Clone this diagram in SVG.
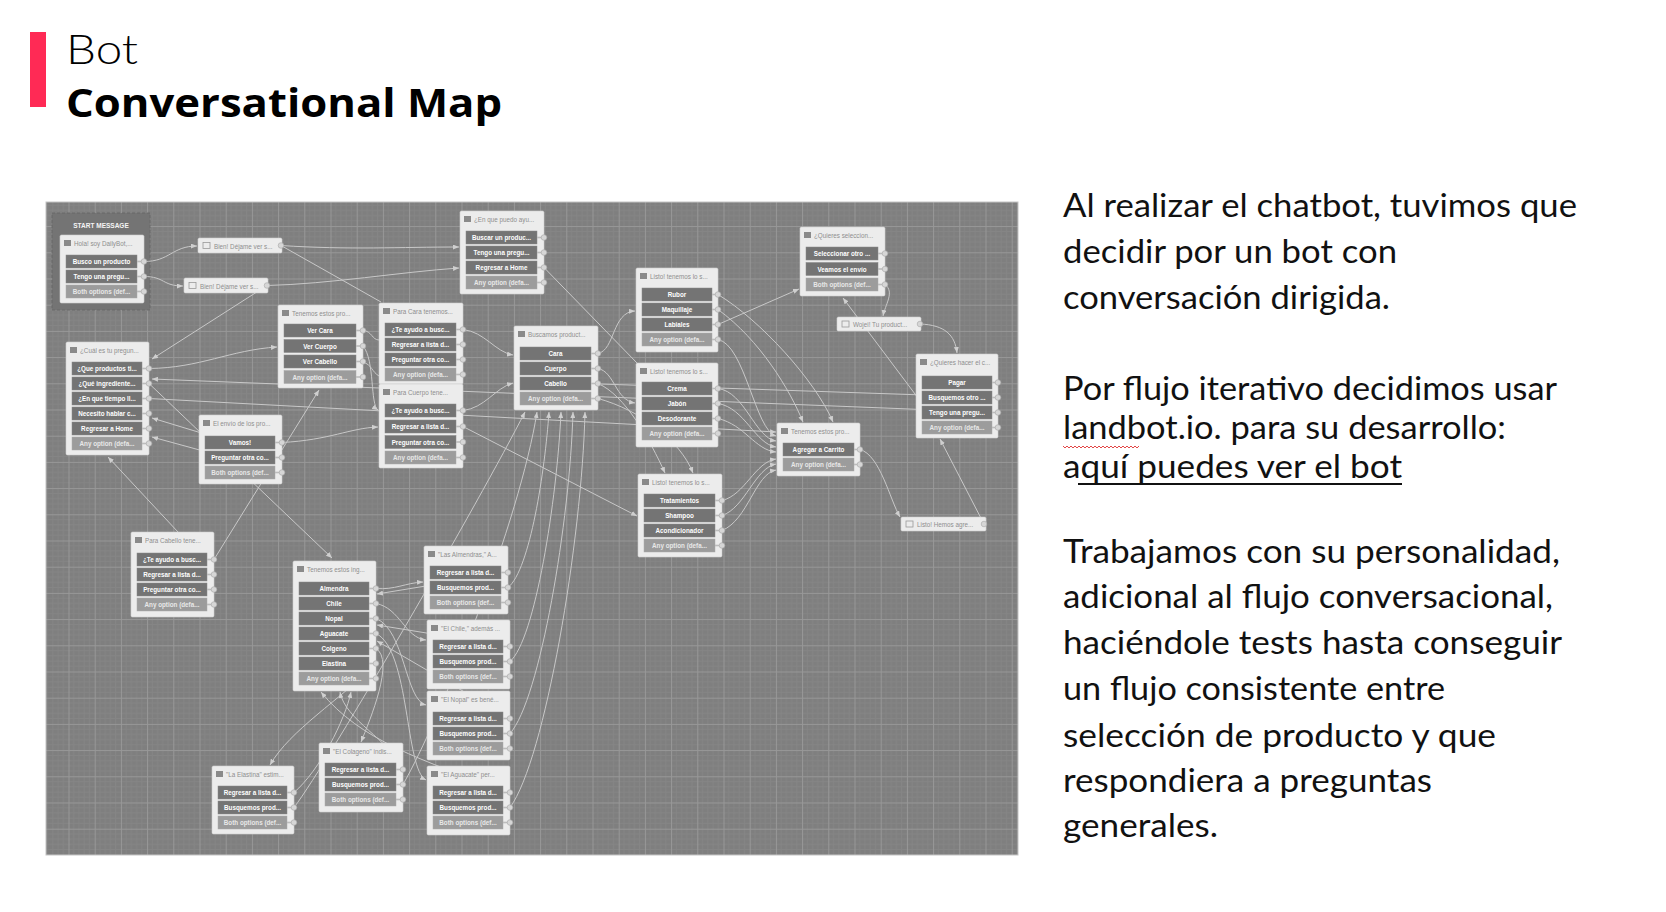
<svg xmlns="http://www.w3.org/2000/svg" width="1666" height="912" viewBox="0 0 1666 912">
<style>
.card{fill:#ececec;stroke:#d2d2d2;stroke-width:.6}
.btn{fill:#747474;stroke:#888;stroke-width:.5}
.btnl{fill:#9c9c9c;stroke:#aaa;stroke-width:.5}
.bt{font-family:"Liberation Sans",Arial,sans-serif;font-weight:bold;font-size:6.3px;fill:#fff;text-anchor:middle}
.btl{fill:#e8e8e8}
.hd{font-family:"Liberation Sans",Arial,sans-serif;font-size:6.3px;fill:#8e8e8e}
.ico{fill:#8a8a8a}
.icoo{fill:none;stroke:#9a9a9a;stroke-width:.8}
.port{fill:#d6d6d6;stroke:#a6a6a6;stroke-width:.6}
.pl{stroke:#bdbdbd;stroke-width:1.6}
.cn{fill:none;stroke:#c8c8c8;stroke-width:1}
.cna{fill:none;stroke:#c8c8c8;stroke-width:1;marker-end:url(#ah)}
.body{font-family:Lato,"Open Sans",sans-serif;font-size:32px;fill:#111}
</style>
<defs>
<marker id="ah" markerWidth="6" markerHeight="5" refX="6" refY="2.5" orient="auto" markerUnits="userSpaceOnUse"><path d="M0,0L6,2.5L0,5z" fill="#cfcfcf"/></marker>
<pattern id="grid" patternUnits="userSpaceOnUse" x="68.5" y="226.1" width="26.2" height="26.2">
<rect width="26.2" height="26.2" fill="#7f7f7f"/>
<path d="M5.24 0V26.2M10.48 0V26.2M15.72 0V26.2M20.96 0V26.2M0 5.24H26.2M0 10.48H26.2M0 15.72H26.2M0 20.96H26.2" stroke="#858585" stroke-width="1"/>
<path d="M0.5 0V26.2M0 0.5H26.2" stroke="#989898" stroke-width="1"/>
</pattern>
</defs>
<rect width="1666" height="912" fill="#fff"/>

<g id="title">
<rect x="30" y="32" width="16" height="75" fill="#ff2a55"/>
<text x="66" y="64" font-family="Lato,'Open Sans',sans-serif" font-weight="300" font-size="42" fill="#000" textLength="72" lengthAdjust="spacingAndGlyphs">Bot</text>
<text x="66" y="117" font-family="'Open Sans',Lato,sans-serif" font-weight="700" font-size="40" fill="#000" textLength="436" lengthAdjust="spacingAndGlyphs">Conversational Map</text>
</g>

<g id="description">
<text class="body" x="1063" y="217" textLength="514" lengthAdjust="spacingAndGlyphs">Al realizar el chatbot, tuvimos que</text>
<text class="body" x="1063" y="263" textLength="334" lengthAdjust="spacingAndGlyphs">decidir por un bot con</text>
<text class="body" x="1063" y="309" textLength="327" lengthAdjust="spacingAndGlyphs">conversación dirigida.</text>
<text class="body" x="1063" y="400" textLength="494" lengthAdjust="spacingAndGlyphs">Por flujo iterativo decidimos usar</text>
<text class="body" x="1063" y="439" textLength="443" lengthAdjust="spacingAndGlyphs">landbot.io. para su desarrollo:</text>
<polyline points="1063,446 1065,448 1067,446 1069,448 1071,446 1073,448 1075,446 1077,448 1079,446 1081,448 1083,446 1085,448 1087,446 1089,448 1091,446 1093,448 1095,446 1097,448 1099,446 1101,448 1103,446 1105,448 1107,446 1109,448 1111,446 1113,448 1115,446 1117,448 1119,446 1121,448 1123,446 1125,448 1127,446 1129,448 1131,446 1133,448 1135,446 1137,448 1139,446" fill="none" stroke="#e03030" stroke-width="0.9"/>
<text class="body" x="1063" y="478" textLength="339" lengthAdjust="spacingAndGlyphs">aquí puedes ver el bot</text>
<line x1="1078" y1="484" x2="1402" y2="484" stroke="#111" stroke-width="2"/>
<text class="body" x="1063" y="563" textLength="497" lengthAdjust="spacingAndGlyphs">Trabajamos con su personalidad,</text>
<text class="body" x="1063" y="608" textLength="490" lengthAdjust="spacingAndGlyphs">adicional al flujo conversacional,</text>
<text class="body" x="1063" y="654" textLength="499" lengthAdjust="spacingAndGlyphs">haciéndole tests hasta conseguir</text>
<text class="body" x="1063" y="700" textLength="382" lengthAdjust="spacingAndGlyphs">un flujo consistente entre</text>
<text class="body" x="1063" y="747" textLength="433" lengthAdjust="spacingAndGlyphs">selección de producto y que</text>
<text class="body" x="1063" y="792" textLength="369" lengthAdjust="spacingAndGlyphs">respondiera a preguntas</text>
<text class="body" x="1063" y="837" textLength="155" lengthAdjust="spacingAndGlyphs">generales.</text>
</g>

<g id="map-bg">
<rect x="46" y="202" width="972" height="653" fill="url(#grid)" stroke="#c4c4c4" stroke-width="1"/>
<rect x="52" y="213" width="98" height="97" fill="#747474" stroke="#666" stroke-width="0.8" stroke-dasharray="3 2"/>
<text x="101" y="228" font-family="'Liberation Sans',Arial,sans-serif" font-weight="bold" font-size="6.5" fill="#f4f4f4" text-anchor="middle">START MESSAGE</text>
</g>

<g id="connectors">
<path class="cna" d="M144,261.5 C170,261.5 172,246 197,246"/>
<path class="cna" d="M144,276.5 C165,276.5 162,286 183,286"/>
<path class="cna" d="M281,245.5 C350,250 400,247 459,247"/>
<path class="cn" d="M281,245.5 L381,302"/>
<path class="cna" d="M267,285.5 C330,284 400,272 459,268"/>
<path class="cna" d="M267,285.5 L152,359"/>
<path class="cna" d="M149,368.5 C200,368 230,350 277,347"/>
<path class="cna" d="M998,412.5 L152,379"/>
<path class="cna" d="M149,383.5 L332,558"/>
<path class="cna" d="M149,398.5 L776,432"/>
<path class="cna" d="M282,457.5 L152,418"/>
<path class="cna" d="M282,472.5 L152,437"/>
<path class="cna" d="M178,532 L108,457"/>
<path class="cna" d="M214,559.5 L319,390"/>
<path class="cna" d="M282,442.5 C330,440 350,428 378,427"/>
<path class="cn" d="M363,330.5 C372,331 372,340 379,340"/>
<path class="cna" d="M363,346 C375,360 370,405 378,410"/>
<path class="cn" d="M363,362 C372,365 372,372 379,376"/>
<path class="cna" d="M463,329.5 C485,332 495,352 513,355"/>
<path class="cna" d="M463,410.5 C485,408 495,388 513,383"/>
<path class="cna" d="M463,426.5 L637,516"/>
<path class="cna" d="M598,353.5 C615,350 612,312 635,311"/>
<path class="cna" d="M598,368.5 C615,372 615,400 635,403"/>
<path class="cna" d="M598,383.5 C625,395 650,440 665,473"/>
<path class="cna" d="M598,398.5 C640,410 680,440 693,473"/>
<path class="cn" d="M998,397.5 L600,384"/>
<path class="cn" d="M544,267.5 L637,363"/>
<path class="cna" d="M718,294.5 C760,320 815,380 833,422"/>
<path class="cna" d="M718,309.5 C760,340 790,390 803,422"/>
<path class="cna" d="M718,324.5 L799,289"/>
<path class="cna" d="M718,339.5 C745,345 755,430 776,436"/>
<path class="cna" d="M718,388.5 C745,392 755,438 776,441"/>
<path class="cna" d="M718,403.5 C745,408 755,444 776,447"/>
<path class="cna" d="M718,418.5 C745,425 755,450 776,452"/>
<path class="cna" d="M722,500.5 C745,495 755,462 776,459"/>
<path class="cna" d="M722,515.5 C745,508 755,468 776,464"/>
<path class="cna" d="M722,530.5 C748,520 755,474 776,470"/>
<path class="cna" d="M885,284.5 C895,292 885,305 883,316"/>
<path class="cna" d="M920,324 C945,325 955,335 957,353"/>
<path class="cna" d="M930,414 L843,298"/>
<path class="cna" d="M860,449.5 C880,455 890,500 900,517"/>
<path class="cna" d="M984,524 L940,439"/>
<path class="cna" d="M376,588.5 C395,590 405,583 423,582"/>
<path class="cna" d="M508,572.5 L377,594"/>
<path class="cna" d="M376,603.5 C400,608 405,638 426,640"/>
<path class="cna" d="M510,646.5 L377,625"/>
<path class="cna" d="M376,618.5 C405,630 405,700 426,705"/>
<path class="cna" d="M376,633.5 C410,650 405,770 426,780"/>
<path class="cna" d="M510,718.5 L377,641"/>
<path class="cna" d="M510,792.5 C420,760 360,740 321,692"/>
<path class="cna" d="M376,648.5 C395,660 370,720 361,742"/>
<path class="cna" d="M376,663.5 C340,700 290,730 270,765"/>
<path class="cna" d="M294,792.5 C320,770 345,720 351,692"/>
<path class="cna" d="M403,769.5 C390,740 345,720 340,692"/>
<path class="cna" d="M294,807.5 C330,760 480,500 525,412"/>
<path class="cna" d="M403,784.5 C440,720 520,520 537,412"/>
<path class="cna" d="M508,587.5 C530,570 545,470 549,412"/>
<path class="cna" d="M510,661.5 C535,640 557,500 561,412"/>
<path class="cna" d="M510,733.5 C540,700 570,520 573,412"/>
<path class="cna" d="M510,807.5 C545,760 582,540 585,412"/>
</g>

<g id="n-hola">
<rect class="card" x="60" y="235" width="84" height="68" rx="1.5"/>
<rect class="ico" x="64" y="240" width="7" height="6"/>
<text class="hd" x="74" y="245.5">Hola! soy DailyBot,...</text>
<rect class="btn" x="66" y="255" width="71" height="13"/><text class="bt" x="101.5" y="264">Busco un producto</text>
<rect class="btn" x="66" y="270" width="71" height="13"/><text class="bt" x="101.5" y="279">Tengo una pregu...</text>
<rect class="btnl" x="66" y="285" width="71" height="13"/><text class="bt btl" x="101.5" y="294">Both options (def...</text>
<line class="pl" x1="137" y1="261.5" x2="144" y2="261.5"/><circle class="port" cx="144" cy="261.5" r="2.8"/>
<line class="pl" x1="137" y1="276.5" x2="144" y2="276.5"/><circle class="port" cx="144" cy="276.5" r="2.8"/>
<line class="pl" x1="137" y1="291.5" x2="144" y2="291.5"/><circle class="port" cx="144" cy="291.5" r="2.8"/>
</g>

<g id="n-bien1">
<rect class="card" x="198" y="238" width="84" height="15" rx="1.5"/>
<rect class="icoo" x="203" y="242.5" width="7" height="6"/>
<text class="hd" x="214" y="248.5">Bien! Déjame ver s...</text>
<circle class="port" cx="281" cy="245.5" r="2.8"/>
</g>
<g id="n-bien2">
<rect class="card" x="184" y="278" width="84" height="15" rx="1.5"/>
<rect class="icoo" x="189" y="282.5" width="7" height="6"/>
<text class="hd" x="200" y="288.5">Bien! Déjame ver s...</text>
<circle class="port" cx="267" cy="285.5" r="2.8"/>
</g>

<g id="n-cual">
<rect class="card" x="66" y="342" width="83" height="113" rx="1.5"/>
<rect class="ico" x="70" y="347" width="7" height="6"/>
<text class="hd" x="80" y="352.5">¿Cuál es tu pregun...</text>
<rect class="btn" x="72" y="362" width="70" height="13"/><text class="bt" x="107" y="371">¿Que productos ti...</text>
<rect class="btn" x="72" y="377" width="70" height="13"/><text class="bt" x="107" y="386">¿Qué ingrediente...</text>
<rect class="btn" x="72" y="392" width="70" height="13"/><text class="bt" x="107" y="401">¿En que tiempo ll...</text>
<rect class="btn" x="72" y="407" width="70" height="13"/><text class="bt" x="107" y="416">Necesito hablar c...</text>
<rect class="btn" x="72" y="422" width="70" height="13"/><text class="bt" x="107" y="431">Regresar a Home</text>
<rect class="btnl" x="72" y="437" width="70" height="13"/><text class="bt btl" x="107" y="446">Any option (defa...</text>
<line class="pl" x1="142" y1="368.5" x2="149" y2="368.5"/><circle class="port" cx="149" cy="368.5" r="2.8"/>
<line class="pl" x1="142" y1="383.5" x2="149" y2="383.5"/><circle class="port" cx="149" cy="383.5" r="2.8"/>
<line class="pl" x1="142" y1="398.5" x2="149" y2="398.5"/><circle class="port" cx="149" cy="398.5" r="2.8"/>
<line class="pl" x1="142" y1="413.5" x2="149" y2="413.5"/><circle class="port" cx="149" cy="413.5" r="2.8"/>
<line class="pl" x1="142" y1="428.5" x2="149" y2="428.5"/><circle class="port" cx="149" cy="428.5" r="2.8"/>
<line class="pl" x1="142" y1="443.5" x2="149" y2="443.5"/><circle class="port" cx="149" cy="443.5" r="2.8"/>
</g>

<g id="n-envio">
<rect class="card" x="199" y="415" width="83" height="69" rx="1.5"/>
<rect class="ico" x="203" y="420" width="7" height="6"/>
<text class="hd" x="213" y="425.5">El envío de los pro...</text>
<rect class="btn" x="205" y="436" width="70" height="13"/><text class="bt" x="240" y="445">Vamos!</text>
<rect class="btn" x="205" y="451" width="70" height="13"/><text class="bt" x="240" y="460">Preguntar otra co...</text>
<rect class="btnl" x="205" y="466" width="70" height="13"/><text class="bt btl" x="240" y="475">Both options (def...</text>
<line class="pl" x1="275" y1="442.5" x2="282" y2="442.5"/><circle class="port" cx="282" cy="442.5" r="2.8"/>
<line class="pl" x1="275" y1="457.5" x2="282" y2="457.5"/><circle class="port" cx="282" cy="457.5" r="2.8"/>
<line class="pl" x1="275" y1="472.5" x2="282" y2="472.5"/><circle class="port" cx="282" cy="472.5" r="2.8"/>
</g>

<g id="n-tenemos1">
<rect class="card" x="278" y="305" width="85" height="83" rx="1.5"/>
<rect class="ico" x="282" y="310" width="7" height="6"/>
<text class="hd" x="292" y="315.5">Tenemos estos pro...</text>
<rect class="btn" x="284" y="324" width="72" height="13"/><text class="bt" x="320" y="333">Ver Cara</text>
<rect class="btn" x="284" y="339.5" width="72" height="13"/><text class="bt" x="320" y="348.5">Ver Cuerpo</text>
<rect class="btn" x="284" y="355" width="72" height="13"/><text class="bt" x="320" y="364">Ver Cabello</text>
<rect class="btnl" x="284" y="370.5" width="72" height="13"/><text class="bt btl" x="320" y="379.5">Any option (defa...</text>
<line class="pl" x1="356" y1="330.5" x2="363" y2="330.5"/><circle class="port" cx="363" cy="330.5" r="2.8"/>
<line class="pl" x1="356" y1="346" x2="363" y2="346"/><circle class="port" cx="363" cy="346" r="2.8"/>
<line class="pl" x1="356" y1="361.5" x2="363" y2="361.5"/><circle class="port" cx="363" cy="361.5" r="2.8"/>
<line class="pl" x1="356" y1="377" x2="363" y2="377"/><circle class="port" cx="363" cy="377" r="2.8"/>
</g>

<g id="n-cabello">
<rect class="card" x="131" y="532" width="83" height="85" rx="1.5"/>
<rect class="ico" x="135" y="537" width="7" height="6"/>
<text class="hd" x="145" y="542.5">Para Cabello tene...</text>
<rect class="btn" x="137" y="553" width="70" height="13"/><text class="bt" x="172" y="562">¿Te ayudo a busc...</text>
<rect class="btn" x="137" y="568" width="70" height="13"/><text class="bt" x="172" y="577">Regresar a lista d...</text>
<rect class="btn" x="137" y="583" width="70" height="13"/><text class="bt" x="172" y="592">Preguntar otra co...</text>
<rect class="btnl" x="137" y="598" width="70" height="13"/><text class="bt btl" x="172" y="607">Any option (defa...</text>
<line class="pl" x1="207" y1="559.5" x2="214" y2="559.5"/><circle class="port" cx="214" cy="559.5" r="2.8"/>
<line class="pl" x1="207" y1="574.5" x2="214" y2="574.5"/><circle class="port" cx="214" cy="574.5" r="2.8"/>
<line class="pl" x1="207" y1="589.5" x2="214" y2="589.5"/><circle class="port" cx="214" cy="589.5" r="2.8"/>
<line class="pl" x1="207" y1="604.5" x2="214" y2="604.5"/><circle class="port" cx="214" cy="604.5" r="2.8"/>
</g>

<g id="n-ingredientes">
<rect class="card" x="293" y="561" width="83" height="130" rx="1.5"/>
<rect class="ico" x="297" y="566" width="7" height="6"/>
<text class="hd" x="307" y="571.5">Tenemos estos ing...</text>
<rect class="btn" x="299" y="582" width="70" height="13"/><text class="bt" x="334" y="591">Almendra</text>
<rect class="btn" x="299" y="597" width="70" height="13"/><text class="bt" x="334" y="606">Chile</text>
<rect class="btn" x="299" y="612" width="70" height="13"/><text class="bt" x="334" y="621">Nopal</text>
<rect class="btn" x="299" y="627" width="70" height="13"/><text class="bt" x="334" y="636">Aguacate</text>
<rect class="btn" x="299" y="642" width="70" height="13"/><text class="bt" x="334" y="651">Colgeno</text>
<rect class="btn" x="299" y="657" width="70" height="13"/><text class="bt" x="334" y="666">Elastina</text>
<rect class="btnl" x="299" y="672" width="70" height="13"/><text class="bt btl" x="334" y="681">Any option (defa...</text>
<line class="pl" x1="369" y1="588.5" x2="376" y2="588.5"/><circle class="port" cx="376" cy="588.5" r="2.8"/>
<line class="pl" x1="369" y1="603.5" x2="376" y2="603.5"/><circle class="port" cx="376" cy="603.5" r="2.8"/>
<line class="pl" x1="369" y1="618.5" x2="376" y2="618.5"/><circle class="port" cx="376" cy="618.5" r="2.8"/>
<line class="pl" x1="369" y1="633.5" x2="376" y2="633.5"/><circle class="port" cx="376" cy="633.5" r="2.8"/>
<line class="pl" x1="369" y1="648.5" x2="376" y2="648.5"/><circle class="port" cx="376" cy="648.5" r="2.8"/>
<line class="pl" x1="369" y1="663.5" x2="376" y2="663.5"/><circle class="port" cx="376" cy="663.5" r="2.8"/>
<line class="pl" x1="369" y1="678.5" x2="376" y2="678.5"/><circle class="port" cx="376" cy="678.5" r="2.8"/>
</g>

<g id="n-elastina">
<rect class="card" x="212" y="766" width="82" height="68" rx="1.5"/>
<rect class="ico" x="216" y="771" width="7" height="6"/>
<text class="hd" x="226" y="776.5">"La Elastina" estim...</text>
<rect class="btn" x="218" y="786" width="69" height="13"/><text class="bt" x="252.5" y="795">Regresar a lista d...</text>
<rect class="btn" x="218" y="801" width="69" height="13"/><text class="bt" x="252.5" y="810">Busquemos prod...</text>
<rect class="btnl" x="218" y="816" width="69" height="13"/><text class="bt btl" x="252.5" y="825">Both options (def...</text>
<line class="pl" x1="287" y1="792.5" x2="294" y2="792.5"/><circle class="port" cx="294" cy="792.5" r="2.8"/>
<line class="pl" x1="287" y1="807.5" x2="294" y2="807.5"/><circle class="port" cx="294" cy="807.5" r="2.8"/>
<line class="pl" x1="287" y1="822.5" x2="294" y2="822.5"/><circle class="port" cx="294" cy="822.5" r="2.8"/>
</g>

<g id="n-colageno">
<rect class="card" x="319" y="743" width="84" height="69" rx="1.5"/>
<rect class="ico" x="323" y="748" width="7" height="6"/>
<text class="hd" x="333" y="753.5">"El Colageno" indis...</text>
<rect class="btn" x="325" y="763" width="71" height="13"/><text class="bt" x="360.5" y="772">Regresar a lista d...</text>
<rect class="btn" x="325" y="778" width="71" height="13"/><text class="bt" x="360.5" y="787">Busquemos prod...</text>
<rect class="btnl" x="325" y="793" width="71" height="13"/><text class="bt btl" x="360.5" y="802">Both options (def...</text>
<line class="pl" x1="396" y1="769.5" x2="403" y2="769.5"/><circle class="port" cx="403" cy="769.5" r="2.8"/>
<line class="pl" x1="396" y1="784.5" x2="403" y2="784.5"/><circle class="port" cx="403" cy="784.5" r="2.8"/>
<line class="pl" x1="396" y1="799.5" x2="403" y2="799.5"/><circle class="port" cx="403" cy="799.5" r="2.8"/>
</g>

<g id="n-almendras">
<rect class="card" x="424" y="546" width="84" height="68" rx="1.5"/>
<rect class="ico" x="428" y="551" width="7" height="6"/>
<text class="hd" x="438" y="556.5">"Las Almendras," A...</text>
<rect class="btn" x="430" y="566" width="71" height="13"/><text class="bt" x="465.5" y="575">Regresar a lista d...</text>
<rect class="btn" x="430" y="581" width="71" height="13"/><text class="bt" x="465.5" y="590">Busquemos prod...</text>
<rect class="btnl" x="430" y="596" width="71" height="13"/><text class="bt btl" x="465.5" y="605">Both options (def...</text>
<line class="pl" x1="501" y1="572.5" x2="508" y2="572.5"/><circle class="port" cx="508" cy="572.5" r="2.8"/>
<line class="pl" x1="501" y1="587.5" x2="508" y2="587.5"/><circle class="port" cx="508" cy="587.5" r="2.8"/>
<line class="pl" x1="501" y1="602.5" x2="508" y2="602.5"/><circle class="port" cx="508" cy="602.5" r="2.8"/>
</g>

<g id="n-chile">
<rect class="card" x="427" y="620" width="83" height="69" rx="1.5"/>
<rect class="ico" x="431" y="625" width="7" height="6"/>
<text class="hd" x="441" y="630.5">"El Chile," además ...</text>
<rect class="btn" x="433" y="640" width="70" height="13"/><text class="bt" x="468" y="649">Regresar a lista d...</text>
<rect class="btn" x="433" y="655" width="70" height="13"/><text class="bt" x="468" y="664">Busquemos prod...</text>
<rect class="btnl" x="433" y="670" width="70" height="13"/><text class="bt btl" x="468" y="679">Both options (def...</text>
<line class="pl" x1="503" y1="646.5" x2="510" y2="646.5"/><circle class="port" cx="510" cy="646.5" r="2.8"/>
<line class="pl" x1="503" y1="661.5" x2="510" y2="661.5"/><circle class="port" cx="510" cy="661.5" r="2.8"/>
<line class="pl" x1="503" y1="676.5" x2="510" y2="676.5"/><circle class="port" cx="510" cy="676.5" r="2.8"/>
</g>

<g id="n-nopal">
<rect class="card" x="427" y="691" width="83" height="69" rx="1.5"/>
<rect class="ico" x="431" y="696" width="7" height="6"/>
<text class="hd" x="441" y="701.5">"El Nopal" es bené...</text>
<rect class="btn" x="433" y="712" width="70" height="13"/><text class="bt" x="468" y="721">Regresar a lista d...</text>
<rect class="btn" x="433" y="727" width="70" height="13"/><text class="bt" x="468" y="736">Busquemos prod...</text>
<rect class="btnl" x="433" y="742" width="70" height="13"/><text class="bt btl" x="468" y="751">Both options (def...</text>
<line class="pl" x1="503" y1="718.5" x2="510" y2="718.5"/><circle class="port" cx="510" cy="718.5" r="2.8"/>
<line class="pl" x1="503" y1="733.5" x2="510" y2="733.5"/><circle class="port" cx="510" cy="733.5" r="2.8"/>
<line class="pl" x1="503" y1="748.5" x2="510" y2="748.5"/><circle class="port" cx="510" cy="748.5" r="2.8"/>
</g>

<g id="n-aguacate">
<rect class="card" x="427" y="766" width="83" height="69" rx="1.5"/>
<rect class="ico" x="431" y="771" width="7" height="6"/>
<text class="hd" x="441" y="776.5">"El Aguacate" per...</text>
<rect class="btn" x="433" y="786" width="70" height="13"/><text class="bt" x="468" y="795">Regresar a lista d...</text>
<rect class="btn" x="433" y="801" width="70" height="13"/><text class="bt" x="468" y="810">Busquemos prod...</text>
<rect class="btnl" x="433" y="816" width="70" height="13"/><text class="bt btl" x="468" y="825">Both options (def...</text>
<line class="pl" x1="503" y1="792.5" x2="510" y2="792.5"/><circle class="port" cx="510" cy="792.5" r="2.8"/>
<line class="pl" x1="503" y1="807.5" x2="510" y2="807.5"/><circle class="port" cx="510" cy="807.5" r="2.8"/>
<line class="pl" x1="503" y1="822.5" x2="510" y2="822.5"/><circle class="port" cx="510" cy="822.5" r="2.8"/>
</g>

<g id="n-enque">
<rect class="card" x="460" y="211" width="84" height="83" rx="1.5"/>
<rect class="ico" x="464" y="216" width="7" height="6"/>
<text class="hd" x="474" y="221.5">¿En que puedo ayu...</text>
<rect class="btn" x="466" y="231" width="71" height="13"/><text class="bt" x="501.5" y="240">Buscar un produc...</text>
<rect class="btn" x="466" y="246" width="71" height="13"/><text class="bt" x="501.5" y="255">Tengo una pregu...</text>
<rect class="btn" x="466" y="261" width="71" height="13"/><text class="bt" x="501.5" y="270">Regresar a Home</text>
<rect class="btnl" x="466" y="276" width="71" height="13"/><text class="bt btl" x="501.5" y="285">Any option (defa...</text>
<line class="pl" x1="537" y1="237.5" x2="544" y2="237.5"/><circle class="port" cx="544" cy="237.5" r="2.8"/>
<line class="pl" x1="537" y1="252.5" x2="544" y2="252.5"/><circle class="port" cx="544" cy="252.5" r="2.8"/>
<line class="pl" x1="537" y1="267.5" x2="544" y2="267.5"/><circle class="port" cx="544" cy="267.5" r="2.8"/>
<line class="pl" x1="537" y1="282.5" x2="544" y2="282.5"/><circle class="port" cx="544" cy="282.5" r="2.8"/>
</g>

<g id="n-paracara">
<rect class="card" x="379" y="303" width="84" height="81" rx="1.5"/>
<rect class="ico" x="383" y="308" width="7" height="6"/>
<text class="hd" x="393" y="313.5">Para Cara tenemos...</text>
<rect class="btn" x="385" y="323" width="71" height="13"/><text class="bt" x="420.5" y="332">¿Te ayudo a busc...</text>
<rect class="btn" x="385" y="338" width="71" height="13"/><text class="bt" x="420.5" y="347">Regresar a lista d...</text>
<rect class="btn" x="385" y="353" width="71" height="13"/><text class="bt" x="420.5" y="362">Preguntar otra co...</text>
<rect class="btnl" x="385" y="368" width="71" height="13"/><text class="bt btl" x="420.5" y="377">Any option (defa...</text>
<line class="pl" x1="456" y1="329.5" x2="463" y2="329.5"/><circle class="port" cx="463" cy="329.5" r="2.8"/>
<line class="pl" x1="456" y1="344.5" x2="463" y2="344.5"/><circle class="port" cx="463" cy="344.5" r="2.8"/>
<line class="pl" x1="456" y1="359.5" x2="463" y2="359.5"/><circle class="port" cx="463" cy="359.5" r="2.8"/>
<line class="pl" x1="456" y1="374.5" x2="463" y2="374.5"/><circle class="port" cx="463" cy="374.5" r="2.8"/>
</g>

<g id="n-paracuerpo">
<rect class="card" x="379" y="384" width="84" height="84" rx="1.5"/>
<rect class="ico" x="383" y="389" width="7" height="6"/>
<text class="hd" x="393" y="394.5">Para Cuerpo tene...</text>
<rect class="btn" x="385" y="404" width="71" height="13"/><text class="bt" x="420.5" y="413">¿Te ayudo a busc...</text>
<rect class="btn" x="385" y="420" width="71" height="13"/><text class="bt" x="420.5" y="429">Regresar a lista d...</text>
<rect class="btn" x="385" y="435.5" width="71" height="13"/><text class="bt" x="420.5" y="444.5">Preguntar otra co...</text>
<rect class="btnl" x="385" y="451" width="71" height="13"/><text class="bt btl" x="420.5" y="460">Any option (defa...</text>
<line class="pl" x1="456" y1="410.5" x2="463" y2="410.5"/><circle class="port" cx="463" cy="410.5" r="2.8"/>
<line class="pl" x1="456" y1="426.5" x2="463" y2="426.5"/><circle class="port" cx="463" cy="426.5" r="2.8"/>
<line class="pl" x1="456" y1="442" x2="463" y2="442"/><circle class="port" cx="463" cy="442" r="2.8"/>
<line class="pl" x1="456" y1="457.5" x2="463" y2="457.5"/><circle class="port" cx="463" cy="457.5" r="2.8"/>
</g>

<g id="n-buscamos">
<rect class="card" x="514" y="326" width="84" height="84" rx="1.5"/>
<rect class="ico" x="518" y="331" width="7" height="6"/>
<text class="hd" x="528" y="336.5">Buscamos product...</text>
<rect class="btn" x="520" y="347" width="71" height="13"/><text class="bt" x="555.5" y="356">Cara</text>
<rect class="btn" x="520" y="362" width="71" height="13"/><text class="bt" x="555.5" y="371">Cuerpo</text>
<rect class="btn" x="520" y="377" width="71" height="13"/><text class="bt" x="555.5" y="386">Cabello</text>
<rect class="btnl" x="520" y="392" width="71" height="13"/><text class="bt btl" x="555.5" y="401">Any option (defa...</text>
<line class="pl" x1="591" y1="353.5" x2="598" y2="353.5"/><circle class="port" cx="598" cy="353.5" r="2.8"/>
<line class="pl" x1="591" y1="368.5" x2="598" y2="368.5"/><circle class="port" cx="598" cy="368.5" r="2.8"/>
<line class="pl" x1="591" y1="383.5" x2="598" y2="383.5"/><circle class="port" cx="598" cy="383.5" r="2.8"/>
<line class="pl" x1="591" y1="398.5" x2="598" y2="398.5"/><circle class="port" cx="598" cy="398.5" r="2.8"/>
</g>

<g id="n-listo1">
<rect class="card" x="636" y="268" width="82" height="84" rx="1.5"/>
<rect class="ico" x="640" y="273" width="7" height="6"/>
<text class="hd" x="650" y="278.5">Listo! tenemos lo s...</text>
<rect class="btn" x="642" y="288" width="70" height="13"/><text class="bt" x="677" y="297">Rubor</text>
<rect class="btn" x="642" y="303" width="70" height="13"/><text class="bt" x="677" y="312">Maquillaje</text>
<rect class="btn" x="642" y="318" width="70" height="13"/><text class="bt" x="677" y="327">Labiales</text>
<rect class="btnl" x="642" y="333" width="70" height="13"/><text class="bt btl" x="677" y="342">Any option (defa...</text>
<line class="pl" x1="712" y1="294.5" x2="718" y2="294.5"/><circle class="port" cx="718" cy="294.5" r="2.8"/>
<line class="pl" x1="712" y1="309.5" x2="718" y2="309.5"/><circle class="port" cx="718" cy="309.5" r="2.8"/>
<line class="pl" x1="712" y1="324.5" x2="718" y2="324.5"/><circle class="port" cx="718" cy="324.5" r="2.8"/>
<line class="pl" x1="712" y1="339.5" x2="718" y2="339.5"/><circle class="port" cx="718" cy="339.5" r="2.8"/>
</g>

<g id="n-listo2">
<rect class="card" x="636" y="363" width="82" height="84" rx="1.5"/>
<rect class="ico" x="640" y="368" width="7" height="6"/>
<text class="hd" x="650" y="373.5">Listo! tenemos lo s...</text>
<rect class="btn" x="642" y="382" width="70" height="13"/><text class="bt" x="677" y="391">Crema</text>
<rect class="btn" x="642" y="397" width="70" height="13"/><text class="bt" x="677" y="406">Jabón</text>
<rect class="btn" x="642" y="412" width="70" height="13"/><text class="bt" x="677" y="421">Desodorante</text>
<rect class="btnl" x="642" y="427" width="70" height="13"/><text class="bt btl" x="677" y="436">Any option (defa...</text>
<line class="pl" x1="712" y1="388.5" x2="718" y2="388.5"/><circle class="port" cx="718" cy="388.5" r="2.8"/>
<line class="pl" x1="712" y1="403.5" x2="718" y2="403.5"/><circle class="port" cx="718" cy="403.5" r="2.8"/>
<line class="pl" x1="712" y1="418.5" x2="718" y2="418.5"/><circle class="port" cx="718" cy="418.5" r="2.8"/>
<line class="pl" x1="712" y1="433.5" x2="718" y2="433.5"/><circle class="port" cx="718" cy="433.5" r="2.8"/>
</g>

<g id="n-listo3">
<rect class="card" x="638" y="474" width="84" height="83" rx="1.5"/>
<rect class="ico" x="642" y="479" width="7" height="6"/>
<text class="hd" x="652" y="484.5">Listo! tenemos lo s...</text>
<rect class="btn" x="644" y="494" width="71" height="13"/><text class="bt" x="679.5" y="503">Tratamientos</text>
<rect class="btn" x="644" y="509" width="71" height="13"/><text class="bt" x="679.5" y="518">Shampoo</text>
<rect class="btn" x="644" y="524" width="71" height="13"/><text class="bt" x="679.5" y="533">Acondicionador</text>
<rect class="btnl" x="644" y="539" width="71" height="13"/><text class="bt btl" x="679.5" y="548">Any option (defa...</text>
<line class="pl" x1="715" y1="500.5" x2="722" y2="500.5"/><circle class="port" cx="722" cy="500.5" r="2.8"/>
<line class="pl" x1="715" y1="515.5" x2="722" y2="515.5"/><circle class="port" cx="722" cy="515.5" r="2.8"/>
<line class="pl" x1="715" y1="530.5" x2="722" y2="530.5"/><circle class="port" cx="722" cy="530.5" r="2.8"/>
<line class="pl" x1="715" y1="545.5" x2="722" y2="545.5"/><circle class="port" cx="722" cy="545.5" r="2.8"/>
</g>

<g id="n-quieres-sel">
<rect class="card" x="800" y="227" width="85" height="69" rx="1.5"/>
<rect class="ico" x="804" y="232" width="7" height="6"/>
<text class="hd" x="814" y="237.5">¿Quieres seleccion...</text>
<rect class="btn" x="806" y="247" width="72" height="13"/><text class="bt" x="842" y="256">Seleccionar otro ...</text>
<rect class="btn" x="806" y="262.5" width="72" height="13"/><text class="bt" x="842" y="271.5">Veamos el envío</text>
<rect class="btnl" x="806" y="278" width="72" height="13"/><text class="bt btl" x="842" y="287">Both options (def...</text>
<line class="pl" x1="878" y1="253.5" x2="885" y2="253.5"/><circle class="port" cx="885" cy="253.5" r="2.8"/>
<line class="pl" x1="878" y1="269" x2="885" y2="269"/><circle class="port" cx="885" cy="269" r="2.8"/>
<line class="pl" x1="878" y1="284.5" x2="885" y2="284.5"/><circle class="port" cx="885" cy="284.5" r="2.8"/>
</g>

<g id="n-wojei">
<rect class="card" x="837" y="317" width="84" height="14" rx="1.5"/>
<rect class="icoo" x="842" y="321" width="7" height="6"/>
<text class="hd" x="853" y="326.5">Wojei! Tu product...</text>
<circle class="port" cx="920" cy="324" r="2.8"/>
</g>

<g id="n-quieres-hacer">
<rect class="card" x="916" y="354" width="82" height="84" rx="1.5"/>
<rect class="ico" x="920" y="359" width="7" height="6"/>
<text class="hd" x="930" y="364.5">¿Quieres hacer el c...</text>
<rect class="btn" x="922" y="376" width="70" height="13"/><text class="bt" x="957" y="385">Pagar</text>
<rect class="btn" x="922" y="391" width="70" height="13"/><text class="bt" x="957" y="400">Busquemos otro ...</text>
<rect class="btn" x="922" y="406" width="70" height="13"/><text class="bt" x="957" y="415">Tengo una pregu...</text>
<rect class="btnl" x="922" y="421" width="70" height="13"/><text class="bt btl" x="957" y="430">Any option (defa...</text>
<line class="pl" x1="992" y1="382.5" x2="998" y2="382.5"/><circle class="port" cx="998" cy="382.5" r="2.8"/>
<line class="pl" x1="992" y1="397.5" x2="998" y2="397.5"/><circle class="port" cx="998" cy="397.5" r="2.8"/>
<line class="pl" x1="992" y1="412.5" x2="998" y2="412.5"/><circle class="port" cx="998" cy="412.5" r="2.8"/>
<line class="pl" x1="992" y1="427.5" x2="998" y2="427.5"/><circle class="port" cx="998" cy="427.5" r="2.8"/>
</g>

<g id="n-tenemos2">
<rect class="card" x="777" y="423" width="83" height="53" rx="1.5"/>
<rect class="ico" x="781" y="428" width="7" height="6"/>
<text class="hd" x="791" y="433.5">Tenemos estos pro...</text>
<rect class="btn" x="783" y="443" width="71" height="13"/><text class="bt" x="818.5" y="452">Agregar a Carrito</text>
<rect class="btnl" x="783" y="458" width="71" height="13"/><text class="bt btl" x="818.5" y="467">Any option (defa...</text>
<line class="pl" x1="854" y1="449.5" x2="860" y2="449.5"/><circle class="port" cx="860" cy="449.5" r="2.8"/>
<line class="pl" x1="854" y1="464.5" x2="860" y2="464.5"/><circle class="port" cx="860" cy="464.5" r="2.8"/>
</g>

<g id="n-hemos">
<rect class="card" x="901" y="517" width="85" height="14" rx="1.5"/>
<rect class="icoo" x="906" y="521" width="7" height="6"/>
<text class="hd" x="917" y="526.5">Listo! Hemos agre...</text>
<circle class="port" cx="984" cy="524" r="2.8"/>
</g>
</svg>
